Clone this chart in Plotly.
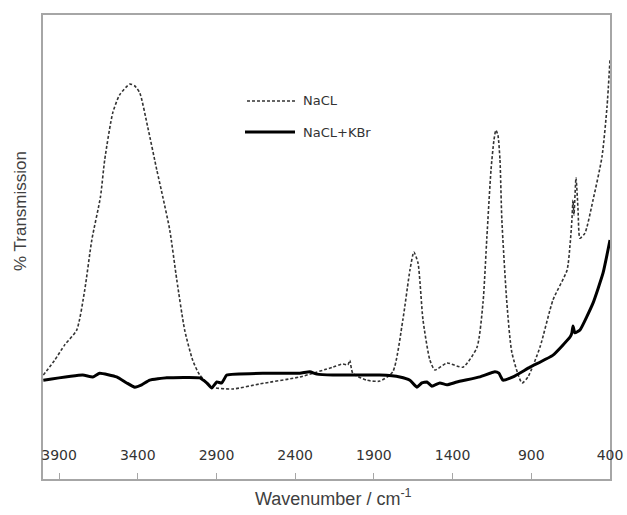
import plotly.graph_objects as go

# NaCL (dashed) spectrum: wavenumber (cm-1) and transmission (arbitrary %)
nacl_wn = [4000, 3928, 3864, 3788, 3737, 3692, 3637, 3610, 3559, 3515, 3451, 3419, 3387,
           3337, 3279, 3241, 3197, 3152, 3102, 3051, 3006, 2923, 2796, 2624, 2370, 2161,
           2097, 2065, 2053, 2034, 1945, 1862, 1780, 1716, 1671, 1646, 1620, 1588, 1544,
           1512, 1436, 1334, 1245, 1207, 1182, 1156, 1137, 1125, 1112, 1099, 1087, 1055,
           1023, 959, 921, 845, 762, 673, 654, 642, 635, 629, 616, 603, 591, 559, 508,
           451, 419, 400]
nacl_t = [22.4, 25.6, 28.9, 32.1, 40.7, 51.5, 60.8, 68.8, 78.9, 82.8, 85.1, 84.7, 83.2,
          75.9, 66.6, 60.8, 53.7, 42.9, 32.1, 25.6, 22.4, 19.8, 19.4, 20.5, 22.0, 24.1,
          24.8, 24.6, 25.6, 22.8, 21.3, 21.1, 23.1, 34.3, 45.0, 48.9, 46.6, 34.3, 25.6,
          23.5, 25.0, 24.1, 28.4, 37.9, 52.2, 66.6, 73.1, 75.2, 74.1, 68.8, 55.8, 37.9,
          27.2, 20.7, 22.0, 28.4, 38.6, 45.0, 50.4, 55.8, 60.1, 56.9, 64.9, 58.0, 51.9,
          53.0, 60.1, 69.4, 80.2, 90.3]

# NaCL+KBr (solid) spectrum
kbr_wn = [4000, 3750, 3686, 3642, 3534, 3470, 3419, 3375, 3324, 3216, 3006, 2962, 2930,
          2898, 2866, 2834, 2580, 2370, 2307, 2262, 2161, 1945, 1862, 1735, 1671, 1627,
          1595, 1563, 1531, 1481, 1436, 1373, 1226, 1131, 1106, 1080, 1016, 908, 762,
          654, 642, 635, 623, 591, 508, 444, 400]
kbr_t = [21.3, 22.4, 22.0, 22.8, 22.0, 20.7, 19.8, 20.3, 21.3, 21.8, 21.8, 20.7, 19.6,
         20.9, 20.7, 22.4, 22.8, 22.8, 23.1, 22.6, 22.4, 22.4, 22.4, 22.0, 21.3, 19.8,
         20.7, 20.9, 20.0, 20.7, 20.3, 20.9, 22.0, 23.1, 22.8, 21.3, 22.0, 24.1, 26.7,
         30.6, 31.5, 33.0, 31.5, 32.1, 37.9, 44.4, 51.5]

tick_vals = [3900, 3400, 2900, 2400, 1900, 1400, 900, 400]
series_names = ["NaCL", "NaCL+KBr"]

fig = go.Figure()
fig.add_trace(go.Scatter(x=nacl_wn, y=nacl_t, mode="lines", name=series_names[0],
                         line=dict(color="#333333", width=1.6, dash="3px,2px", shape="spline", smoothing=0.6)))
fig.add_trace(go.Scatter(x=kbr_wn, y=kbr_t, mode="lines", name=series_names[1],
                         line=dict(color="#000000", width=3, shape="spline", smoothing=0.4)))

frame = "#a6a6a6"
fig.update_layout(
    width=627, height=515,
    margin=dict(l=43, r=17, t=15, b=36),
    paper_bgcolor="white", plot_bgcolor="white",
    showlegend=False,
    xaxis=dict(range=[4002, 400], tickvals=tick_vals, ticktext=[str(v) for v in tick_vals],
               ticks="inside", ticklen=6, tickcolor=frame, tickwidth=1.2,
               ticklabelposition="inside", ticklabeloverflow="allow", ticklabelstandoff=10,
               tickfont=dict(family="DejaVu Sans", size=14, color="#333333"),
               showline=True, linecolor=frame, linewidth=1.5, mirror=True,
               showgrid=False, zeroline=False, automargin=False),
    yaxis=dict(range=[0, 100], showticklabels=False, ticks="",
               showline=True, linecolor=frame, linewidth=1.5, mirror=True,
               showgrid=False, zeroline=False, automargin=False),
)


def px_x(px):
    return (px - 43) / 567


def px_y(py):
    return (479 - py) / 464


# axis titles
fig.add_annotation(text="% Transmission", xref="paper", yref="paper", x=px_x(20), y=px_y(211),
                   xanchor="center", yanchor="middle", textangle=-90, showarrow=False,
                   font=dict(family="Liberation Sans", size=17, color="#404040"))
fig.add_annotation(text="Wavenumber / cm<sup>-1</sup>", xref="paper", yref="paper",
                   x=px_x(333), y=px_y(497), xanchor="center", yanchor="middle",
                   showarrow=False, font=dict(family="Liberation Sans", size=18, color="#404040"))

# manual legend
fig.add_shape(type="line", xref="paper", yref="paper", x0=px_x(247), x1=px_x(295),
              y0=px_y(101), y1=px_y(101), line=dict(color="#333333", width=1.6, dash="3px,2px"))
fig.add_shape(type="line", xref="paper", yref="paper", x0=px_x(245), x1=px_x(295),
              y0=px_y(132), y1=px_y(132), line=dict(color="#000000", width=3))
fig.add_annotation(text=series_names[0], xref="paper", yref="paper", x=px_x(301), y=px_y(100),
                   xanchor="left", yanchor="middle", showarrow=False,
                   font=dict(family="DejaVu Sans", size=13, color="#333333"))
fig.add_annotation(text=series_names[1], xref="paper", yref="paper", x=px_x(301), y=px_y(132),
                   xanchor="left", yanchor="middle", showarrow=False,
                   font=dict(family="DejaVu Sans", size=13, color="#333333"))

fig.write_html("out.html", config={"displayModeBar": False},
               post_script="document.body.style.margin='0';document.body.style.overflow='hidden';")
